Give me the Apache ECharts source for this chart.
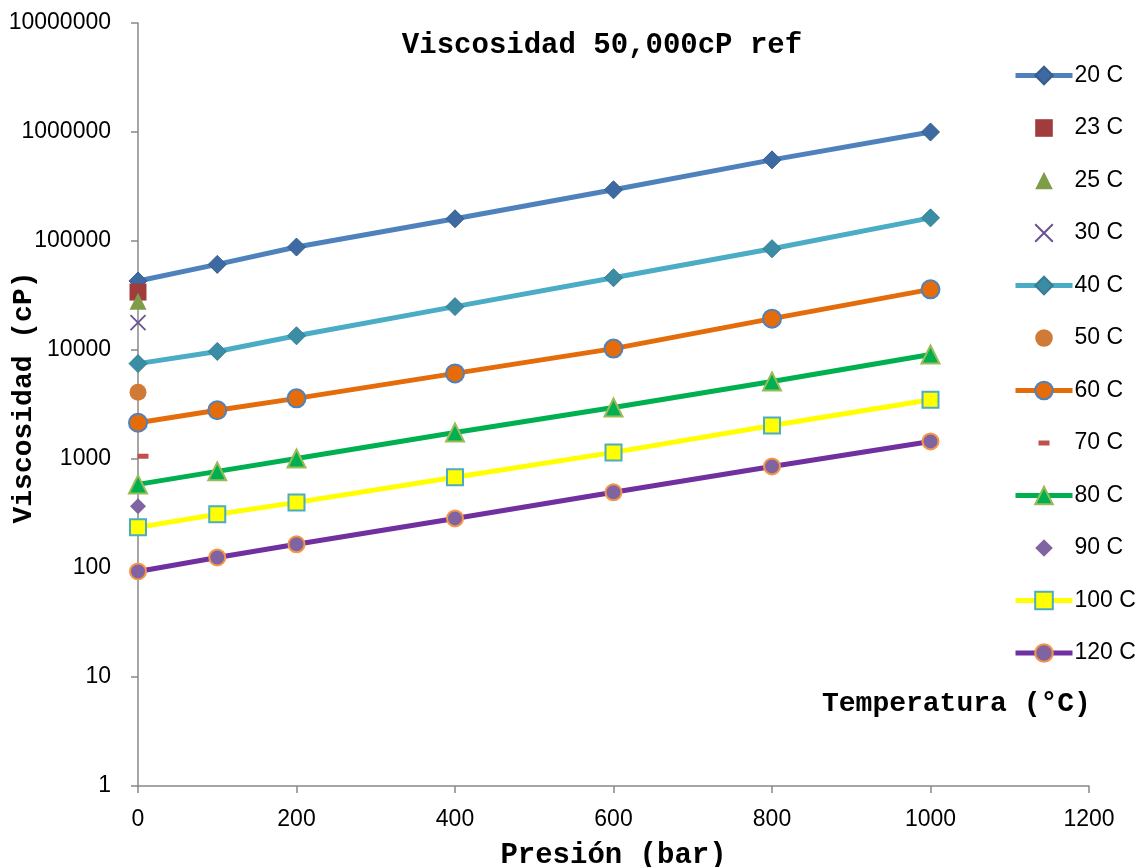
<!DOCTYPE html>
<html>
<head>
<meta charset="utf-8">
<script src="https://cdn.jsdelivr.net/npm/echarts@6/dist/echarts.min.js"></script>
<style>
html,body{margin:0;padding:0;background:#fff;}
#chart{width:1138px;height:867px;}
</style>
</head>
<body>
<div id="chart"></div>
<script>
// Pressures (bar)
const pressures = [0, 100, 200, 400, 600, 800, 1000];
// Viscosity (cP) per temperature
const v20C  = [43000, 61000, 88000, 160000, 295000, 555000, 1000000];
const v40C  = [7500, 9700, 13500, 25000, 46000, 85000, 163000];
const v60C  = [2150, 2800, 3600, 6100, 10300, 19400, 36000];
const v80C  = [585, 770, 1010, 1750, 2970, 5150, 9100];
const v100C = [236, 311, 400, 680, 1150, 2030, 3500];
const v120C = [93, 125, 165, 285, 495, 855, 1450];
// Single reference points at 0 bar
const v23C = 34000;
const v25C = 28000;
const v30C = 17800;
const v50C = 4100;
const v70C = 1060;
const v90C = 368;
const yTicks = [1, 10, 100, 1000, 10000, 100000, 1000000, 10000000];
const xTicks = [0, 200, 400, 600, 800, 1000, 1200];

const pairs = arr => pressures.map((p, i) => [p, arr[i]]);
const mono = "'Liberation Mono', 'Courier New', monospace";
const sans = "'Liberation Sans', 'Open Sans', Arial, sans-serif";

function lineSeries(name, data, lineColor, symbol, size, fill, border, bw) {
  return {
    name, type: 'line', data: pairs(data),
    symbol, symbolSize: size, showSymbol: true,
    lineStyle: {color: lineColor, width: 5},
    itemStyle: {color: fill, borderColor: border, borderWidth: bw},
    emphasis: {disabled: true}, animation: false
  };
}
function pointSeries(name, val, symbol, size, style, offset) {
  return {
    name, type: 'line', data: [[0, val]],
    symbol, symbolSize: size, showSymbol: true, symbolOffset: offset || [0, 0],
    lineStyle: {width: 0, color: 'transparent'}, itemStyle: style,
    emphasis: {disabled: true}, animation: false
  };
}

const series = [
  lineSeries('20 C', v20C, '#4f81bd', 'diamond', 18, '#3d6aa3', '#385d8a', 1),
  pointSeries('23 C', v23C, 'rect', 17, {color: '#a03c3c'}),
  pointSeries('25 C', v25C, 'triangle', 17, {color: '#7f9d48'}),
  pointSeries('30 C', v30C, 'path://M0,0L10,10M10,0L0,10', 15, {color: 'transparent', borderColor: '#6b5391', borderWidth: 1.8}),
  lineSeries('40 C', v40C, '#4bacc6', 'diamond', 18, '#3a8da5', '#357d92', 1),
  pointSeries('50 C', v50C, 'circle', 17, {color: '#cf7b37'}),
  lineSeries('60 C', v60C, '#e46c0a', 'circle', 18, '#e46c0a', '#4f81bd', 2),
  pointSeries('70 C', v70C, 'rect', [11, 5], {color: '#c0504d'}, [5, 0]),
  lineSeries('80 C', v80C, '#00b050', 'triangle', 18, '#00b050', '#9bbb59', 2),
  pointSeries('90 C', v90C, 'diamond', 16, {color: '#8064a2'}),
  lineSeries('100 C', v100C, '#ffff00', 'rect', 16, '#ffff00', '#4bacc6', 2),
  lineSeries('120 C', v120C, '#7030a0', 'circle', 16, '#8064a2', '#f79646', 2)
];

const legendData = series.map(s => {
  if (s.data.length > 1) return {name: s.name, lineStyle: {width: 5}};
  const item = {name: s.name, lineStyle: {width: 0, color: 'transparent'}};
  if (s.name === '70 C') {
    // small dash centred in the legend icon box
    item.icon = 'path://M0,0L0,0M57,22L57,22M23,8.5L34,8.5L34,13.5L23,13.5Z';
  }
  return item;
});

const chart = echarts.init(document.getElementById('chart'), null, {renderer: 'canvas'});
chart.setOption({
  backgroundColor: '#ffffff',
  animation: false,
  grid: {left: 138, right: 49, top: 23, bottom: 81, containLabel: false, outerBoundsMode: 'none'},
  title: {
    text: 'Viscosidad 50,000cP ref', left: 602, top: 31, textAlign: 'center', padding: 0,
    textStyle: {fontFamily: mono, fontWeight: 'bold', fontSize: 29, color: '#000'}
  },
  legend: {
    orient: 'vertical', left: 1013, top: 64, itemWidth: 57, itemHeight: 22, itemGap: 29.5,
    padding: 0,
    textStyle: {fontFamily: sans, fontSize: 23, color: '#000', padding: [0, 0, 0, -3]},
    data: legendData
  },
  xAxis: {
    type: 'value', min: 0, max: 1200, interval: 200,
    name: 'Presión (bar)', nameLocation: 'middle', nameGap: 55, nameMoveOverlap: false,
    nameTextStyle: {fontFamily: mono, fontWeight: 'bold', fontSize: 29, color: '#000'},
    axisLine: {show: true, lineStyle: {color: '#888', width: 1.5}},
    axisTick: {show: true, length: 7, lineStyle: {color: '#888', width: 1.5}},
    axisLabel: {fontFamily: sans, fontSize: 23, color: '#000', margin: 22,
      formatter: v => xTicks.includes(v) ? String(v) : ''},
    splitLine: {show: false}
  },
  yAxis: {
    type: 'log', logBase: 10, min: 1, max: 10000000, interval: 1,
    name: 'Viscosidad (cP)', nameLocation: 'middle', nameGap: 100, nameRotate: 90,
    nameMoveOverlap: false,
    nameTextStyle: {fontFamily: mono, fontWeight: 'bold', fontSize: 28, color: '#000', padding: [0, 0, 0, 14]},
    axisLine: {show: true, lineStyle: {color: '#888', width: 1.5}},
    axisTick: {show: true, length: 7, lineStyle: {color: '#888', width: 1.5}},
    axisLabel: {fontFamily: sans, fontSize: 23, color: '#000', margin: 27,
      formatter: v => { const r = Math.round(v); return yTicks.includes(r) ? String(r) : ''; }},
    splitLine: {show: false},
    minorTick: {show: false}
  },
  graphic: [{
    type: 'text', left: 822, top: 690,
    style: {text: 'Temperatura (°C)', font: 'bold 28px ' + mono, fill: '#000'}
  }],
  series
});
</script>
</body>
</html>
